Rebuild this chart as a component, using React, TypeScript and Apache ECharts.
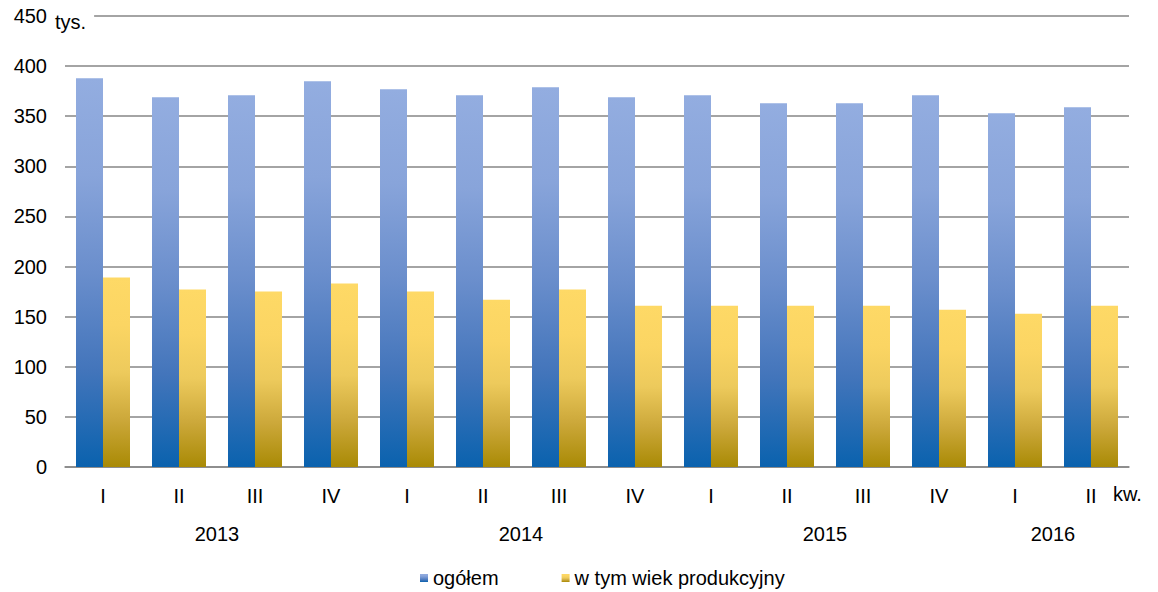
import React, { useEffect, useRef } from "react";
import * as echarts from "echarts";

const quarters = ["I", "II", "III", "IV", "I", "II", "III", "IV", "I", "II", "III", "IV", "I", "II"];
const years = ["2013", "2014", "2015", "2016"];
const quartersPerYear = [4, 4, 4, 2];
const ogolem = [388, 369, 371, 385, 377, 371, 379, 369, 371, 363, 363, 371, 353, 359];
const produkcyjny = [189, 177, 175, 183, 175, 167, 177, 161, 161, 161, 161, 157, 153, 161];
const yTicks = { min: 0, max: 450, interval: 50 };

const FONT = "'Liberation Sans', Arial, sans-serif";

export default function App() {
  const ref = useRef<HTMLDivElement>(null);
  useEffect(() => {
    document.body.style.margin = "0";
    if (!ref.current) return;
    const chart = echarts.init(ref.current, undefined, { renderer: "svg" });

    const yearCenters: Record<number, string> = {};
    let start = 0;
    years.forEach((y, i) => {
      yearCenters[start + quartersPerYear[i] / 2] = y;
      start += quartersPerYear[i];
    });

    const blue = new echarts.graphic.LinearGradient(0, 0, 0, 1, [
      { offset: 0, color: "#93ADE0" },
      { offset: 0.25, color: "#88A4DA" },
      { offset: 0.5, color: "#6A8ECC" },
      { offset: 0.75, color: "#4375BB" },
      { offset: 1, color: "#0A62AE" },
    ]);
    const yellow = new echarts.graphic.LinearGradient(0, 0, 0, 1, [
      { offset: 0, color: "#FED966" },
      { offset: 0.25, color: "#FBD563" },
      { offset: 0.5, color: "#EDCA5C" },
      { offset: 0.75, color: "#CCA83A" },
      { offset: 1, color: "#A98A05" },
    ]);

    chart.setOption({
      animation: false,
      textStyle: { fontFamily: FONT },
      grid: { left: 65, right: 29, top: 16, bottom: 125 },
      legend: {
        left: 415,
        top: 563,
        itemWidth: 8,
        itemHeight: 8,
        itemGap: 63,
        icon: "rect",
        textStyle: { fontSize: 20, color: "#000", fontFamily: FONT },
        data: ["ogółem", "w tym wiek produkcyjny"],
      },
      xAxis: [
        {
          type: "category",
          data: quarters,
          axisLine: { show: true, lineStyle: { color: "#868686", width: 1.5 } },
          axisTick: { show: false },
          axisLabel: { fontSize: 20, color: "#000", margin: 19, interval: 0, fontFamily: FONT },
        },
        {
          type: "value",
          position: "bottom",
          min: 0,
          max: quarters.length,
          interval: 1,
          axisLine: { show: false },
          axisTick: { show: false },
          splitLine: { show: false },
          axisLabel: {
            fontSize: 20,
            color: "#000",
            margin: 57,
            fontFamily: FONT,
            formatter: (v: number) => yearCenters[v] ?? "",
          },
        },
      ],
      yAxis: {
        type: "value",
        min: yTicks.min,
        max: yTicks.max,
        interval: yTicks.interval,
        axisLine: { show: false },
        axisTick: { show: false },
        axisLabel: { fontSize: 20, color: "#000", margin: 18, fontFamily: FONT },
        splitLine: { lineStyle: { color: "#868686", width: 1.5 } },
      },
      graphic: [
        {
          type: "text",
          left: 53,
          top: 12,
          z: 100,
          style: {
            text: "tys.",
            fontSize: 20,
            fontFamily: FONT,
            fill: "#000",
            backgroundColor: "#fff",
            padding: [0, 8, 0, 2],
          },
        },
        {
          type: "text",
          left: 1113,
          top: 484,
          z: 100,
          style: { text: "kw.", fontSize: 20, fontFamily: FONT, fill: "#000" },
        },
      ],
      series: [
        {
          name: "ogółem",
          type: "bar",
          data: ogolem,
          barWidth: 27,
          barGap: "0%",
          itemStyle: { color: blue },
        },
        {
          name: "w tym wiek produkcyjny",
          type: "bar",
          data: produkcyjny,
          barWidth: 27,
          barGap: "0%",
          itemStyle: { color: yellow },
        },
      ],
    });
    return () => chart.dispose();
  }, []);
  return <div ref={ref} style={{ width: 1158, height: 592 }} />;
}
